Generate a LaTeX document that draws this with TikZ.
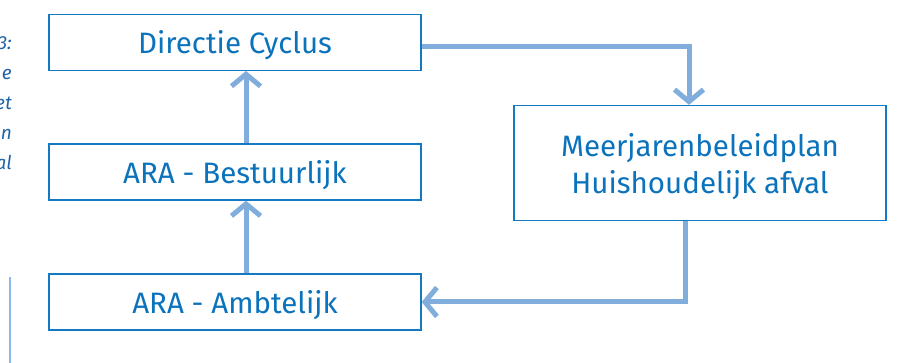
\documentclass[tikz,border=0pt]{standalone}
\usepackage{fontspec}
\setmainfont{Fira Sans}
\usetikzlibrary{arrows.meta}
\definecolor{boxblue}{HTML}{1479C4}
\definecolor{txtblue}{HTML}{0B72BC}
\definecolor{arrblue}{HTML}{80ADDC}
\definecolor{capblue}{HTML}{1F64A6}
\definecolor{lineblue}{HTML}{8DB9E6}
\tikzset{
  flowbox/.style={draw=boxblue, line width=1.3pt, fill=white, text=txtblue,
    minimum width=372pt, minimum height=56pt, inner sep=0pt, align=center,
    text depth=0pt, font=\fontsize{29.5}{37}\selectfont},
  flowarrow/.style={draw=arrblue, line width=5pt,
    -{Straight Barb[length=12pt,width=29pt,line width=5pt]}},
  captext/.style={anchor=base east, inner sep=0pt, text=capblue,
    font=\fontsize{19}{22}\selectfont\itshape}
}
\begin{document}
\begin{tikzpicture}[x=1pt,y=-1pt]
\useasboundingbox (0,0) rectangle (911,363);
% left caption fragments (cut off)
\node[captext] (c1) at (12,50) {3:};
\node[captext] (c2) at (12,80) {e};
\node[captext] (c3) at (12,110) {et};
\node[captext] (c4) at (12,140) {n};
\node[captext] (c5) at (12,170) {al};
\draw[lineblue, line width=1.5pt] (10,277) coordinate (l1) -- (10,363) coordinate (l2);
% boxes
\node[flowbox] (b1) at (235,42.3) {Directie Cyclus};
\node[flowbox] (b2) at (235,172) {ARA - Bestuurlijk};
\node[flowbox] (b3) at (235,302) {ARA - Ambtelijk};
\node[flowbox, minimum height=115pt] (b4) at (700,163) {Meerjarenbeleidplan\\Huishoudelijk afval};
% arrows
\draw[flowarrow] ([xshift=11pt]b3.north) -- ([xshift=11pt]b2.south);
\draw[flowarrow] ([xshift=11pt]b2.north) -- ([xshift=11pt]b1.south);
\draw[flowarrow] ([yshift=-4.5pt]b1.east) -| ([xshift=-11pt]b4.north);
\draw[flowarrow] ([xshift=-15pt]b4.south) |- (b3.east);
\end{tikzpicture}
\end{document}
